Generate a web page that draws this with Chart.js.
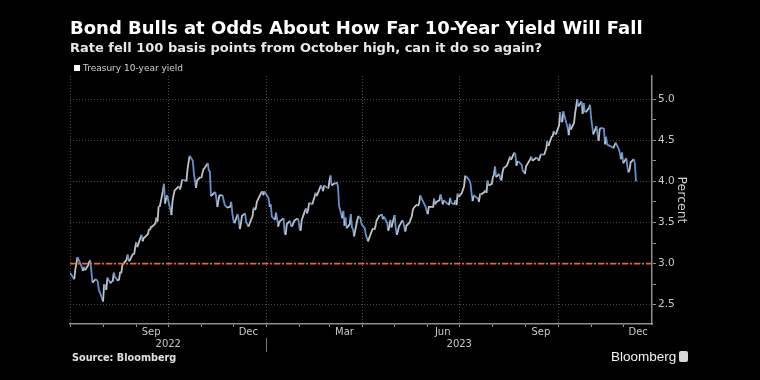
<!DOCTYPE html>
<html><head><meta charset="utf-8">
<script src="https://cdn.jsdelivr.net/npm/chart.js@4.4.1/dist/chart.umd.min.js"></script>
<style>
html,body{margin:0;padding:0;background:#000;}
#wrap{position:relative;width:760px;height:380px;overflow:hidden;background:#000;font-family:"DejaVu Sans",sans-serif;}
canvas{position:absolute;left:0;top:0;}
.t{position:absolute;white-space:nowrap;}
#title{left:70px;top:17px;font-size:18px;font-weight:bold;color:#fff;line-height:22px;}
#sub{left:70px;top:40px;font-size:13px;font-weight:bold;color:#e6e6e6;line-height:16px;}
#leg{left:74px;top:62px;font-size:9px;color:#cfcfcf;line-height:12px;}
#leg .sq{display:inline-block;width:6px;height:6px;background:#fff;margin-right:3px;vertical-align:0px;}
#src{left:72px;top:352px;font-size:9.7px;font-weight:bold;color:#e0e0e0;line-height:12px;}
#logo{left:611px;top:349px;font-size:13.5px;color:#f2f2f2;line-height:16px;font-family:"Liberation Sans",sans-serif;}
#icon{position:absolute;left:679px;top:351px;width:9px;height:11px;background:#d8d8d8;border-radius:2px;}
</style></head>
<body>
<div id="wrap">
<canvas id="c" width="760" height="380"></canvas>
<div class="t" id="title">Bond Bulls at Odds About How Far 10-Year Yield Will Fall</div>
<div class="t" id="sub">Rate fell 100 basis points from October high, can it do so again?</div>
<div class="t" id="leg"><span class="sq"></span>Treasury 10-year yield</div>
<div class="t" id="src">Source: Bloomberg</div>
<div class="t" id="logo">Bloomberg</div>
<div id="icon"></div>
</div>
<script>
// ---- data (daily) ----
const dates2022 = ['07-01','07-05','07-06','07-07','07-08','07-11','07-12','07-13','07-14','07-15','07-18','07-19','07-20','07-21','07-22','07-25','07-26','07-27','07-28','07-29',
'08-01','08-02','08-03','08-04','08-05','08-08','08-09','08-10','08-11','08-12','08-15','08-16','08-17','08-18','08-19','08-22','08-23','08-24','08-25','08-26','08-29','08-30','08-31',
'09-01','09-02','09-06','09-07','09-08','09-09','09-12','09-13','09-14','09-15','09-16','09-19','09-20','09-21','09-22','09-23','09-26','09-27','09-28','09-29','09-30',
'10-03','10-04','10-05','10-06','10-07','10-11','10-12','10-13','10-14','10-17','10-18','10-19','10-20','10-21','10-24','10-25','10-26','10-27','10-28','10-31',
'11-01','11-02','11-03','11-04','11-07','11-08','11-09','11-10','11-14','11-15','11-16','11-17','11-18','11-21','11-22','11-23','11-25','11-28','11-29','11-30',
'12-01','12-02','12-05','12-06','12-07','12-08','12-09','12-12','12-13','12-14','12-15','12-16','12-19','12-20','12-21','12-22','12-23','12-27','12-28','12-29','12-30'];
const yields2022 = [2.89,2.81,2.93,3.00,3.08,2.99,2.96,2.91,2.96,2.92,2.98,3.02,3.04,2.91,2.77,2.81,2.80,2.78,2.68,2.65,
2.54,2.75,2.73,2.68,2.83,2.76,2.79,2.78,2.89,2.84,2.79,2.81,2.90,2.88,2.98,3.03,3.05,3.11,3.03,3.04,3.12,3.11,3.19,
3.26,3.20,3.35,3.27,3.31,3.32,3.36,3.42,3.41,3.45,3.45,3.49,3.56,3.51,3.70,3.69,3.88,3.97,3.73,3.79,3.83,
3.65,3.59,3.76,3.83,3.89,3.94,3.90,3.95,4.02,4.01,4.00,4.14,4.23,4.31,4.25,4.10,4.01,3.92,4.01,4.05,
4.04,4.10,4.15,4.16,4.22,4.13,4.12,3.82,3.87,3.80,3.69,3.77,3.83,3.83,3.76,3.71,3.68,3.69,3.75,3.61,
3.53,3.49,3.60,3.53,3.42,3.48,3.58,3.61,3.50,3.48,3.45,3.48,3.58,3.68,3.65,3.67,3.75,3.86,3.88,3.83,3.88];

const dates2023 = ['01-03','01-04','01-05','01-06','01-09','01-10','01-11','01-12','01-13','01-17','01-18','01-19','01-20','01-23','01-24','01-25','01-26','01-27','01-30','01-31',
'02-01','02-02','02-03','02-06','02-07','02-08','02-09','02-10','02-13','02-14','02-15','02-16','02-17','02-21','02-22','02-23','02-24','02-27','02-28',
'03-01','03-02','03-03','03-06','03-07','03-08','03-09','03-10','03-13','03-14','03-15','03-16','03-17','03-20','03-21','03-22','03-23','03-24','03-27','03-28','03-29','03-30','03-31',
'04-03','04-04','04-05','04-06','04-10','04-11','04-12','04-13','04-14','04-17','04-18','04-19','04-20','04-21','04-24','04-25','04-26','04-27','04-28',
'05-01','05-02','05-03','05-04','05-05','05-08','05-09','05-10','05-11','05-12','05-15','05-16','05-17','05-18','05-19','05-22','05-23','05-24','05-25','05-26','05-30','05-31',
'06-01','06-02','06-05','06-06','06-07','06-08','06-09','06-12','06-13','06-14','06-15','06-16','06-20','06-21','06-22','06-23','06-26','06-27','06-28','06-29','06-30',
'07-03','07-05','07-06','07-07','07-10','07-11','07-12','07-13','07-14','07-17','07-18','07-19','07-20','07-21','07-24','07-25','07-26','07-27','07-28','07-31',
'08-01','08-02','08-03','08-04','08-07','08-08','08-09','08-10','08-11','08-14','08-15','08-16','08-17','08-18','08-21','08-22','08-23','08-24','08-25','08-28','08-29','08-30','08-31',
'09-01','09-05','09-06','09-07','09-08','09-11','09-12','09-13','09-14','09-15','09-18','09-19','09-20','09-21','09-22','09-25','09-26','09-27','09-28','09-29',
'10-02','10-03','10-04','10-05','10-06','10-10','10-11','10-12','10-13','10-16','10-17','10-18','10-19','10-20','10-23','10-24','10-25','10-26','10-27','10-30','10-31',
'11-01','11-02','11-03','11-06','11-07','11-08','11-09','11-10','11-13','11-14','11-15','11-16','11-17','11-20','11-21','11-22','11-24','11-27','11-28','11-29','11-30',
'12-01','12-04','12-05','12-06','12-07','12-08','12-11','12-12','12-13'];
const yields2023 = [3.79,3.69,3.72,3.57,3.53,3.62,3.54,3.45,3.51,3.55,3.37,3.35,3.48,3.52,3.46,3.45,3.49,3.52,3.55,3.52,
3.42,3.40,3.53,3.64,3.67,3.61,3.66,3.74,3.72,3.77,3.81,3.86,3.82,3.95,3.92,3.88,3.95,3.92,3.92,
4.01,4.07,3.95,3.98,3.97,3.99,3.93,3.70,3.55,3.64,3.46,3.56,3.43,3.48,3.60,3.44,3.42,3.33,3.53,3.57,3.57,3.55,3.48,
3.43,3.35,3.31,3.27,3.41,3.43,3.41,3.45,3.52,3.59,3.58,3.60,3.54,3.57,3.50,3.40,3.45,3.53,3.44,
3.59,3.44,3.35,3.39,3.45,3.52,3.52,3.44,3.39,3.46,3.50,3.54,3.57,3.65,3.68,3.72,3.70,3.74,3.83,3.80,3.69,3.64,
3.60,3.69,3.69,3.68,3.79,3.72,3.75,3.77,3.84,3.79,3.72,3.77,3.72,3.72,3.80,3.74,3.72,3.77,3.71,3.85,3.81,
3.86,3.94,4.06,4.06,4.01,3.97,3.86,3.76,3.83,3.80,3.79,3.75,3.85,3.84,3.87,3.89,3.86,4.01,3.95,3.97,
4.05,4.08,4.18,4.05,4.09,4.03,4.01,4.11,4.16,4.19,4.22,4.26,4.30,4.26,4.35,4.33,4.19,4.24,4.24,4.20,4.12,4.12,4.09,
4.18,4.27,4.30,4.25,4.26,4.29,4.27,4.25,4.29,4.33,4.32,4.36,4.40,4.49,4.43,4.54,4.55,4.61,4.58,4.57,
4.68,4.84,4.73,4.72,4.85,4.65,4.56,4.70,4.63,4.71,4.83,4.91,5.00,4.91,4.97,4.82,4.95,4.85,4.84,4.89,4.93,
4.77,4.67,4.57,4.67,4.57,4.49,4.63,4.65,4.64,4.45,4.54,4.45,4.44,4.42,4.41,4.41,4.47,4.39,4.34,4.27,4.35,
4.22,4.28,4.17,4.11,4.14,4.23,4.27,4.21,4.00];

const seriesName = 'Treasury 10-year yield';
const refLevel = 3.0;
const yTickValues = [2.5, 3.0, 3.5, 4.0, 4.5, 5.0];
const yMinorTickValues = [2.75, 3.25, 3.75, 4.25, 4.75];
const monthLabels = ['Sep', 'Dec', 'Mar', 'Jun', 'Sep', 'Dec'];
const monthLabelDates = ['2022-09-15', '2022-12-15', '2023-03-15', '2023-06-15', '2023-09-15', '2023-12-15'];
const yearLabels = ['2022', '2023'];

// ---- helpers ----
const base = Date.UTC(2022, 6, 1);
function dayOf(s) { const [y, m, d] = s.split('-').map(Number); return Math.round((Date.UTC(y, m - 1, d) - base) / 864e5); }
const xMin = 0, xMax = 545;
const yearStart2023 = dayOf('2023-01-01');

const points = [];
dates2022.forEach((d, i) => points.push({ x: dayOf('2022-' + d), y: yields2022[i] }));
dates2023.forEach((d, i) => points.push({ x: dayOf('2023-' + d), y: yields2023[i] }));

const monthStarts = [];
for (let k = 0; k < 18; k++) { const y = 2022 + Math.floor((6 + k) / 12); const m = (6 + k) % 12; monthStarts.push(Math.round((Date.UTC(y, m, 1) - base) / 864e5)); }
const quarterStarts = monthStarts.filter((v, i) => i % 3 === 0);
const yearCenters = [(xMin + yearStart2023) / 2, (yearStart2023 + xMax) / 2];

const FONT = '"DejaVu Sans", sans-serif';
const LABEL = '#c8c8c8';
const AXIS = '#8e8e8e';
const GRID = '#4a4a4a';

const yearSep = {
  id: 'yearSep',
  afterDraw(chart) {
    const xs = chart.scales.x, ya = chart.scales.xYear, c = chart.ctx;
    const px = Math.round(xs.getPixelForValue(yearStart2023)) + 0.5;
    c.save(); c.strokeStyle = '#7a7a7a'; c.lineWidth = 1;
    c.beginPath(); c.moveTo(px, ya.top); c.lineTo(px, ya.top + 14); c.stroke(); c.restore();
  }
};

new Chart(document.getElementById('c'), {
  type: 'line',
  data: {
    datasets: [
      { label: '3% level', data: [{ x: xMin, y: refLevel }, { x: xMax, y: refLevel }], borderColor: '#e8662c', borderWidth: 1.6, borderDash: [6, 2, 2, 2], pointRadius: 0, order: 0 },
      { label: seriesName, data: points, borderWidth: 1.8, pointRadius: 0, tension: 0, borderColor: '#c8c8c8', order: 1,
        segment: { borderColor: c => (c.p1.parsed.y >= c.p0.parsed.y ? '#c2c2c2' : '#6391cf') } }
    ]
  },
  options: {
    responsive: false, animation: false, devicePixelRatio: 1,
    layout: { padding: { left: 70, top: 76, right: 71, bottom: 25 } },
    plugins: { legend: { display: false }, tooltip: { enabled: false } },
    scales: {
      x: {
        type: 'linear', position: 'bottom', min: xMin, max: xMax, weight: 0,
        afterBuildTicks: s => { s.ticks = monthStarts.map(v => ({ value: v })); },
        ticks: { display: false },
        grid: { display: true, drawOnChartArea: true, drawTicks: true, tickLength: 3, lineWidth: 1, tickWidth: 1,
          color: c => (c.tick && quarterStarts.includes(c.tick.value) ? GRID : 'rgba(0,0,0,0)'), tickColor: AXIS },
        border: { display: true, color: AXIS, width: 1.5, dash: [1, 2] },
        afterFit: s => { s.height = 2; }
      },
      xMonth: {
        type: 'linear', position: 'bottom', min: xMin, max: xMax, weight: 1,
        afterBuildTicks: s => { s.ticks = monthLabelDates.map(d => ({ value: dayOf(d) })); },
        ticks: { callback: (v, i) => monthLabels[i], color: LABEL, font: { family: FONT, size: 10 }, padding: 0, maxRotation: 0, autoSkip: false },
        grid: { display: false, drawTicks: false }, border: { display: false },
        afterFit: s => { s.height = 12; }
      },
      xYear: {
        type: 'linear', position: 'bottom', min: xMin, max: xMax, weight: 2,
        afterBuildTicks: s => { s.ticks = yearCenters.map(v => ({ value: v })); },
        ticks: { callback: (v, i) => yearLabels[i], color: LABEL, font: { family: FONT, size: 10 }, padding: 0, maxRotation: 0, autoSkip: false },
        grid: { display: false, drawTicks: false }, border: { display: false },
        afterFit: s => { s.height = 17; }
      },
      y: {
        type: 'linear', position: 'right', min: 2.266, max: 5.28,
        afterBuildTicks: s => { s.ticks = [...yTickValues, ...yMinorTickValues].sort((a, b) => a - b).map(v => ({ value: v })); },
        ticks: { callback: v => (yTickValues.includes(v) ? v.toFixed(1) : ''), color: LABEL, font: { family: FONT, size: 10.5 }, padding: 2, autoSkip: false },
        grid: { drawTicks: true, tickLength: 4, tickColor: AXIS, lineWidth: 1,
          color: c => (c.tick && yTickValues.includes(c.tick.value) ? GRID : 'rgba(0,0,0,0)') },
        border: { display: true, color: AXIS, width: 1.5, dash: [1, 2] },
        title: { display: true, text: 'Percent', color: '#d2d2d2', font: { family: FONT, size: 12.5 }, padding: 0 },
        afterFit: s => { s.width = 37; }
      }
    }
  },
  plugins: [yearSep]
});
</script>
</body></html>
